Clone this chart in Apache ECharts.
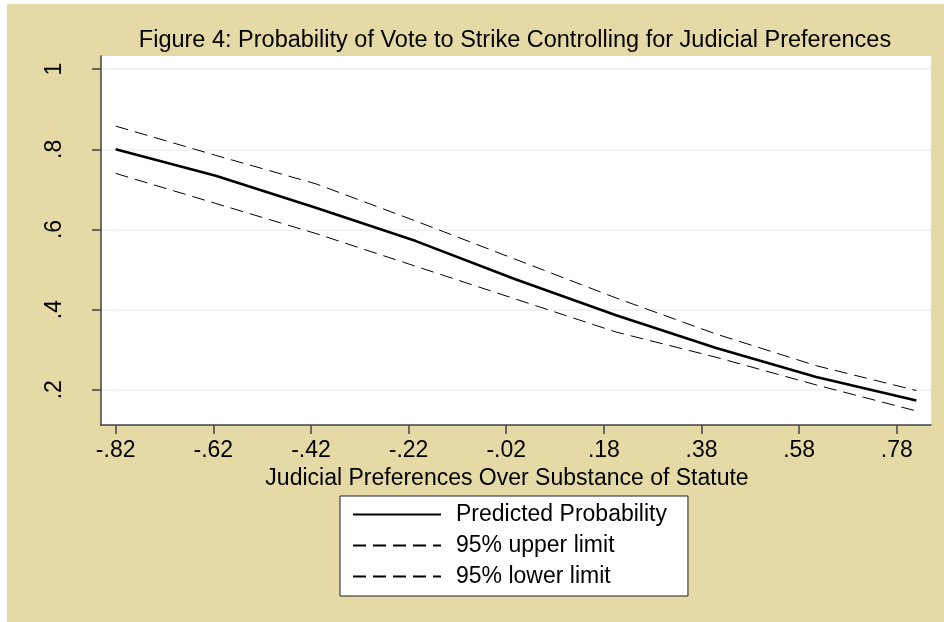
<!DOCTYPE html>
<html>
<head>
<meta charset="utf-8">
<script src="https://cdn.jsdelivr.net/npm/echarts@6/dist/echarts.min.js"></script>
<style>
  html, body { margin: 0; padding: 0; background: #ffffff; }
  #chart { position: absolute; left: 7px; top: 4px; width: 937px; height: 618px; }
</style>
</head>
<body>
<div id="chart"></div>
<script>
// Judicial preference scores at which the probability was evaluated
const xValues = [-0.82, -0.615, -0.41, -0.205, 0, 0.205, 0.41, 0.615, 0.82];
// Predicted probability of a vote to strike, with 95% confidence limits
const predicted = [0.800, 0.734, 0.654, 0.571, 0.475, 0.386, 0.304, 0.232, 0.173];
const upper95   = [0.858, 0.785, 0.714, 0.621, 0.525, 0.429, 0.339, 0.260, 0.198];
const lower95   = [0.740, 0.665, 0.590, 0.508, 0.426, 0.344, 0.281, 0.212, 0.147];

const seriesNames = ['Predicted Probability', '95% upper limit', '95% lower limit'];

// Axis ticks and their labels
const xTicks = [-0.82, -0.62, -0.42, -0.22, -0.02, 0.18, 0.38, 0.58, 0.78];
const xTickLabels = ['-.82', '-.62', '-.42', '-.22', '-.02', '.18', '.38', '.58', '.78'];
const yTicks = [0.2, 0.4, 0.6, 0.8, 1];
const yTickLabels = ['.2', '.4', '.6', '.8', '1'];

const titleText = 'Figure 4: Probability of Vote to Strike Controlling for Judicial Preferences';
const xAxisTitle = 'Judicial Preferences Over Substance of Statute';

const FONT = '"Liberation Sans", Arial, Helvetica, sans-serif';
const AXIS_COLOR = '#444444';

function pairs(ys) { return xValues.map((x, i) => [x, ys[i]]); }
function labelFor(ticks, labels) {
  return v => {
    const i = ticks.findIndex(t => Math.abs(t - v) < 1e-6);
    return i >= 0 ? labels[i] : '';
  };
}

const chart = echarts.init(document.getElementById('chart'), null, { renderer: 'canvas' });

chart.setOption({
  animation: false,
  backgroundColor: '#E5D9A6',
  textStyle: { fontFamily: FONT, color: '#000' },
  graphic: [{
    type: 'text',
    x: 508, y: 37,
    style: {
      text: titleText,
      fill: '#000',
      font: '23.5px ' + FONT,
      align: 'center',
      verticalAlign: 'middle'
    }
  }],
  grid: {
    left: 94, right: 13, top: 52, bottom: 197,
    show: true, backgroundColor: '#ffffff', borderWidth: 0
  },
  xAxis: {
    type: 'value',
    min: -0.85, max: 0.85,
    name: xAxisTitle,
    nameLocation: 'middle',
    nameGap: 35,
    nameTextStyle: { fontSize: 23, color: '#000', fontFamily: FONT, padding: [0, 18, 0, 0] },
    axisLine: { show: true, onZero: false, lineStyle: { color: AXIS_COLOR, width: 1.5 } },
    axisTick: { show: true, inside: false, length: 9, customValues: xTicks,
                lineStyle: { color: AXIS_COLOR, width: 1.5 } },
    axisLabel: { customValues: xTicks, formatter: labelFor(xTicks, xTickLabels),
                 fontSize: 23, color: '#000', fontFamily: FONT, margin: 14 },
    splitLine: { show: false }
  },
  yAxis: {
    type: 'value',
    min: 0.112, max: 1.033,
    axisLine: { show: true, onZero: false, lineStyle: { color: AXIS_COLOR, width: 1.5 } },
    axisTick: { show: true, inside: false, length: 9, customValues: yTicks,
                lineStyle: { color: AXIS_COLOR, width: 1.5 } },
    axisLabel: { customValues: yTicks, formatter: labelFor(yTicks, yTickLabels),
                 rotate: 90, fontSize: 23, color: '#000', fontFamily: FONT, margin: 35 },
    splitLine: { show: true, lineStyle: { color: '#E8F1F4', width: 1.5 } }
  },
  legend: {
    orient: 'vertical',
    left: 333, top: 492,
    padding: [7, 21, 8, 12],
    backgroundColor: '#ffffff',
    borderColor: '#222222',
    borderWidth: 1,
    borderRadius: 0,
    itemWidth: 88,
    itemHeight: 14,
    itemGap: 8,
    data: seriesNames,
    // line samples only, no marker dot
    itemStyle: { color: 'rgba(0,0,0,0)', borderColor: 'rgba(0,0,0,0)', borderWidth: 0, opacity: 0 },
    textStyle: { fontSize: 23, lineHeight: 23, color: '#000', fontFamily: FONT, padding: [0, 0, 0, 10] }
  },
  series: [
    {
      name: seriesNames[0], type: 'line', data: pairs(predicted),
      symbol: 'none', lineStyle: { color: '#000', width: 2.6, type: 'solid' },
      itemStyle: { color: '#000' }, z: 3
    },
    {
      name: seriesNames[1], type: 'line', data: pairs(upper95),
      symbol: 'none', lineStyle: { color: '#000', width: 1, type: [13, 7] },
      itemStyle: { color: '#000' }, z: 2
    },
    {
      name: seriesNames[2], type: 'line', data: pairs(lower95),
      symbol: 'none', lineStyle: { color: '#000', width: 1, type: [13, 7] },
      itemStyle: { color: '#000' }, z: 2
    }
  ]
});
</script>
</body>
</html>
